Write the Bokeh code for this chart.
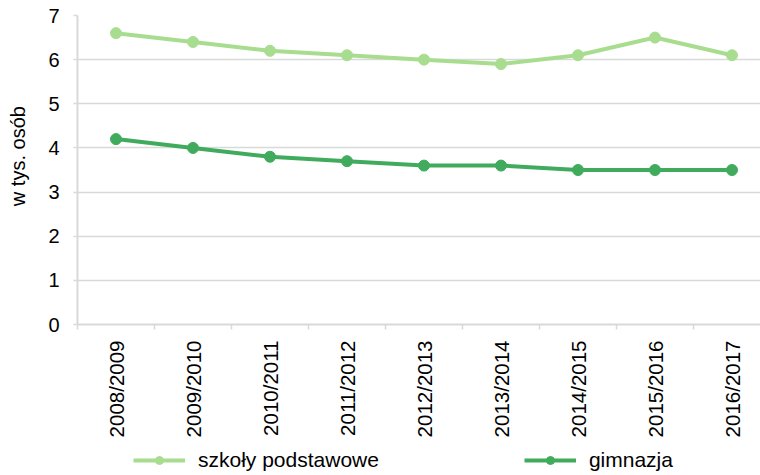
import math
from bokeh.plotting import figure
from bokeh.layouts import column
from bokeh.models import FixedTicker, Range1d, Legend, LegendItem, ColumnDataSource
from bokeh.embed import file_html
from bokeh.resources import INLINE

years = ["2008/2009", "2009/2010", "2010/2011", "2011/2012", "2012/2013",
         "2013/2014", "2014/2015", "2015/2016", "2016/2017"]
szkoly = [6.6, 6.4, 6.2, 6.1, 6.0, 5.9, 6.1, 6.5, 6.1]
gimnazja = [4.2, 4.0, 3.8, 3.7, 3.6, 3.6, 3.5, 3.5, 3.5]
y_ticks = [0, 1, 2, 3, 4, 5, 6, 7]

FONT = "Liberation Sans"
LIGHT = "#a8dd90"
DARK = "#41ab5d"
GRID = "#d9d9d9"

xs = list(range(len(years)))
src = ColumnDataSource(dict(x=xs, s=szkoly, g=gimnazja))

W, H1, H2 = 760, 440, 35
LEFT = 77
p = figure(width=W, height=H1, output_backend="svg", toolbar_location=None,
           x_range=Range1d(-0.5, -0.5 + (W - LEFT) / 77), y_range=Range1d(0, 7),
           min_border_left=LEFT, min_border_right=0, min_border_top=15,
           min_border_bottom=H1 - 326)
p.outline_line_color = None
p.xgrid.grid_line_color = None
p.ygrid.grid_line_color = GRID
p.ygrid.grid_line_width = 1.5

p.line("x", "s", source=src, line_color=LIGHT, line_width=4)
p.scatter("x", "s", source=src, size=11, fill_color=LIGHT, line_color=LIGHT)
p.line("x", "g", source=src, line_color=DARK, line_width=4)
p.scatter("x", "g", source=src, size=11, fill_color=DARK, line_color=DARK)

xa = p.xaxis[0]
xa.ticker = FixedTicker(ticks=xs, minor_ticks=[i - 0.5 for i in range(len(years) + 1)])
xa.major_label_overrides = {i: y for i, y in enumerate(years)}
xa.major_label_orientation = math.pi / 2
xa.major_label_text_font = FONT
xa.major_label_text_font_size = "20.5px"
xa.major_label_text_color = "black"
xa.major_label_standoff = 11
xa.major_tick_out = 0
xa.major_tick_in = 0
xa.minor_tick_out = 5
xa.minor_tick_in = 0
xa.minor_tick_line_color = GRID
xa.minor_tick_line_width = 1.5
xa.axis_line_color = GRID
xa.axis_line_width = 2

ya = p.yaxis[0]
ya.ticker = FixedTicker(ticks=y_ticks, minor_ticks=[])
ya.major_label_text_font = FONT
ya.major_label_text_font_size = "20px"
ya.major_label_text_color = "black"
ya.major_label_standoff = 14
ya.major_tick_out = 4
ya.major_tick_in = 0
ya.major_tick_line_color = GRID
ya.major_tick_line_width = 1.5
ya.axis_line_color = GRID
ya.axis_line_width = 2
ya.axis_label = "\u00a0\u00a0\u00a0\u00a0\u00a0w tys. osób"
ya.axis_label_text_font = FONT
ya.axis_label_text_font_size = "20px"
ya.axis_label_text_font_style = "normal"
ya.axis_label_text_color = "black"
ya.axis_label_standoff = 16

# legend strip (same series, drawn off-range so only the legend shows)
q = figure(width=W, height=H2, output_backend="svg", toolbar_location=None,
           x_range=Range1d(100, 101), y_range=Range1d(100, 101),
           x_axis_location=None, y_axis_location=None, min_border=0)
q.outline_line_color = None
q.grid.grid_line_color = None
ql1 = q.line("x", "s", source=src, line_color=LIGHT, line_width=4)
qc1 = q.scatter("x", "s", source=src, size=11, fill_color=LIGHT, line_color=LIGHT)
ql2 = q.line("x", "g", source=src, line_color=DARK, line_width=4)
qc2 = q.scatter("x", "g", source=src, size=11, fill_color=DARK, line_color=DARK)

legend = Legend(items=[LegendItem(label="szkoły podstawowe", renderers=[ql1, qc1]),
                       LegendItem(label="gimnazja", renderers=[ql2, qc2])],
                orientation="horizontal", location=(56, 3),
                glyph_width=52, glyph_height=20, label_standoff=13, spacing=145,
                padding=0, margin=0, border_line_color=None,
                background_fill_alpha=0,
                label_text_font=FONT, label_text_font_size="21px",
                label_text_color="black")
q.add_layout(legend, "center")

open("out.html", "w").write(file_html(column(p, q, spacing=0), INLINE))
